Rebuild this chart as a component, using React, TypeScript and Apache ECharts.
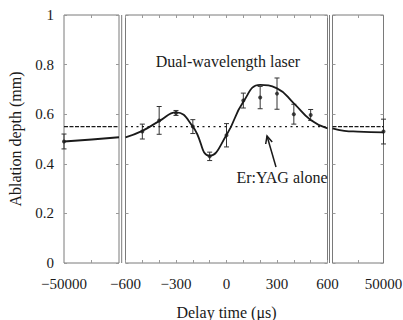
import { useEffect, useRef } from "react";
import * as echarts from "echarts";

// Measured points (delay in µs, ablation depth in mm, error half-width)
const midDelays = [-500, -400, -300, -200, -100, 0, 100, 200, 300, 400, 500];
const midDepths = [0.53, 0.575, 0.605, 0.55, 0.43, 0.515, 0.655, 0.667, 0.683, 0.6, 0.597];
const midErrors = [0.03, 0.056, 0.01, 0.028, 0.017, 0.047, 0.03, 0.045, 0.063, 0.04, 0.022];

const leftDelays = [-50000];
const leftDepths = [0.49];
const leftErrors = [0.03];

const rightDelays = [50000];
const rightDepths = [0.53];
const rightErrors = [0.05];

// Fitted curve
const fitLeftX = [-50000, -25000, -600];
const fitLeftY = [0.49, 0.498, 0.507];
const fitMidX = [-600, -500, -400, -300, -200, -100, 0, 100, 200, 300, 400, 500, 600];
const fitMidY = [0.507, 0.533, 0.572, 0.607, 0.55, 0.432, 0.516, 0.65, 0.718, 0.704, 0.644, 0.577, 0.543];
const fitRightX = [600, 12000, 25000, 50000];
const fitRightY = [0.543, 0.533, 0.53, 0.527];

// Er:YAG alone reference level
const erYagAlone = 0.55;

// Axis ranges and ticks
const panelRanges = [
  [-50000, -600],
  [-600, 600],
  [600, 50000],
];
const leftTickLabels = [-50000];
const rightTickLabels = [50000];
const leftMinorTicks = [-25300];
const rightMinorTicks = [25300];
const yTicks = [0, 0.2, 0.4, 0.6, 0.8, 1];

const FONT = "Liberation Serif, serif";
const INK = "#1a1a1a";
const BOX = "#7a7a7a";

const fmt = (v: number) => (v < 0 ? "\u2212" + Math.abs(v) : String(v));

const zip2 = (xs: number[], ys: number[]) => xs.map((x, i) => [x, ys[i]]);
const zip3 = (xs: number[], ys: number[], es: number[]) => xs.map((x, i) => [x, ys[i], es[i]]);

const errRender = (params: any, api: any) => {
  const x = api.value(0);
  const y = api.value(1);
  const e = api.value(2);
  const hi = api.coord([x, y + e]);
  const lo = api.coord([x, y - e]);
  const s = { stroke: "#333", lineWidth: 1 };
  const c = 2.5;
  return {
    type: "group",
    children: [
      { type: "line", shape: { x1: hi[0], y1: hi[1], x2: lo[0], y2: lo[1] }, style: s },
      { type: "line", shape: { x1: hi[0] - c, y1: hi[1], x2: hi[0] + c, y2: hi[1] }, style: s },
      { type: "line", shape: { x1: lo[0] - c, y1: lo[1], x2: lo[0] + c, y2: lo[1] }, style: s },
    ],
  };
};

export default function App() {
  const ref = useRef<HTMLDivElement>(null);

  useEffect(() => {
    document.body.style.margin = "0";
    if (!ref.current) return;
    const chart = echarts.init(ref.current, undefined, { renderer: "svg" });

    const top = 15;
    const height = 248;
    const grids = [
      { left: 64, top, width: 55, height },
      { left: 125.5, top, width: 202, height },
      { left: 332.5, top, width: 51, height },
    ].map((g) => ({
      ...g,
      show: true,
      borderColor: BOX,
      borderWidth: 1,
      backgroundColor: "transparent",
      containLabel: false,
      outerBoundsMode: "none",
    }));

    const tick = { show: true, inside: true, length: 3, lineStyle: { color: "#9a9a9a", width: 1 } };
    const noLine = { show: false, onZero: false };
    const labelStyle = { fontFamily: FONT, fontSize: 15, color: INK };

    const bottomX: any[] = [
      {
        type: "value",
        gridIndex: 0,
        position: "bottom",
        min: panelRanges[0][0],
        max: panelRanges[0][1],
        axisLine: noLine,
        splitLine: { show: false },
        axisTick: { ...tick, customValues: leftMinorTicks },
        axisLabel: { ...labelStyle, margin: 13, customValues: leftTickLabels, formatter: fmt },
      },
      {
        type: "value",
        gridIndex: 1,
        position: "bottom",
        min: panelRanges[1][0],
        max: panelRanges[1][1],
        interval: 100,
        axisLine: noLine,
        splitLine: { show: false },
        axisTick: tick,
        axisLabel: {
          ...labelStyle,
          margin: 13,
          interval: 0,
          showMinLabel: true,
          showMaxLabel: true,
          formatter: (v: number) => (Math.round(v) % 300 === 0 ? fmt(v) : ""),
        },
        name: "Delay time (\u03bcs)",
        nameLocation: "middle",
        nameGap: 41,
        nameTextStyle: { fontFamily: FONT, fontSize: 16, color: INK },
      },
      {
        type: "value",
        gridIndex: 2,
        position: "bottom",
        min: panelRanges[2][0],
        max: panelRanges[2][1],
        axisLine: noLine,
        splitLine: { show: false },
        axisTick: { ...tick, customValues: rightMinorTicks },
        axisLabel: { ...labelStyle, margin: 13, customValues: rightTickLabels, formatter: fmt },
      },
    ];
    const topX = bottomX.map((a, i) => ({
      type: "value",
      gridIndex: i,
      position: "top",
      min: a.min,
      max: a.max,
      interval: a.interval,
      axisLine: noLine,
      splitLine: { show: false },
      axisTick: a.axisTick,
      axisLabel: { show: false },
    }));

    const leftY = [0, 1, 2].map((i) => ({
      type: "value",
      gridIndex: i,
      position: "left",
      min: 0,
      max: 1,
      interval: 0.2,
      axisLine: noLine,
      splitLine: { show: false },
      axisTick: tick,
      axisLabel:
        i === 0
          ? { ...labelStyle, margin: 10, customValues: yTicks, formatter: (v: number) => (v === 0 || v === 1 ? String(v) : v.toFixed(1)) }
          : { show: false },
      ...(i === 0
        ? {
            name: "Ablation depth (mm)",
            nameLocation: "middle",
            nameGap: 41,
            nameTextStyle: { fontFamily: FONT, fontSize: 16, color: INK },
          }
        : {}),
    }));
    const rightY = [0, 1, 2].map((i) => ({
      type: "value",
      gridIndex: i,
      position: "right",
      min: 0,
      max: 1,
      interval: 0.2,
      axisLine: noLine,
      splitLine: { show: false },
      axisTick: tick,
      axisLabel: { show: false },
    }));

    const fits = [zip2(fitLeftX, fitLeftY), zip2(fitMidX, fitMidY), zip2(fitRightX, fitRightY)];
    const points = [
      zip3(leftDelays, leftDepths, leftErrors),
      zip3(midDelays, midDepths, midErrors),
      zip3(rightDelays, rightDepths, rightErrors),
    ];
    const dashes = [[4, 1.5], [2, 3.5], [4, 1.5]];

    const series: any[] = [];
    for (let i = 0; i < 3; i++) {
      series.push({
        type: "line",
        xAxisIndex: i,
        yAxisIndex: i,
        data: [
          [panelRanges[i][0], erYagAlone],
          [panelRanges[i][1], erYagAlone],
        ],
        symbol: "none",
        lineStyle: { color: INK, width: 1.3, type: dashes[i] },
        silent: true,
      });
      series.push({
        type: "custom",
        xAxisIndex: i,
        yAxisIndex: i,
        data: points[i],
        encode: { x: 0, y: 1 },
        renderItem: errRender,
        clip: false,
        silent: true,
      });
      series.push({
        type: "line",
        xAxisIndex: i,
        yAxisIndex: i,
        data: fits[i],
        smooth: 0.5,
        symbol: "none",
        lineStyle: { color: INK, width: 1.8 },
        silent: true,
      });
      series.push({
        type: "scatter",
        xAxisIndex: i,
        yAxisIndex: i,
        data: points[i].map((p) => [p[0], p[1]]),
        symbolSize: 4,
        itemStyle: { color: INK },
        silent: true,
      });
    }

    chart.setOption({
      animation: false,
      grid: grids,
      xAxis: [...bottomX, ...topX],
      yAxis: [...leftY, ...rightY],
      series,
      graphic: [
        { type: "line", shape: { x1: 121.7, y1: top, x2: 121.7, y2: top + height }, style: { stroke: BOX, lineWidth: 1 } },
        { type: "line", shape: { x1: 329.5, y1: top, x2: 329.5, y2: top + height }, style: { stroke: BOX, lineWidth: 1 } },
        {
          type: "text",
          x: 228,
          y: 61,
          style: { text: "Dual-wavelength laser", fontFamily: FONT, fontSize: 16, fill: INK, align: "center", verticalAlign: "middle" },
        },
        {
          type: "text",
          x: 282,
          y: 177,
          style: { text: "Er:YAG alone", fontFamily: FONT, fontSize: 16, fill: INK, align: "center", verticalAlign: "middle" },
        },
        { type: "line", shape: { x1: 276, y1: 167, x2: 267, y2: 136 }, style: { stroke: INK, lineWidth: 1.5 } },
        {
          type: "polyline",
          shape: { points: [[265.7, 144], [267, 136], [272.2, 142.1]] },
          style: { stroke: INK, lineWidth: 1.5, fill: "none" },
        },
      ],
    });

    return () => chart.dispose();
  }, []);

  return <div ref={ref} style={{ width: 403, height: 320 }} />;
}
